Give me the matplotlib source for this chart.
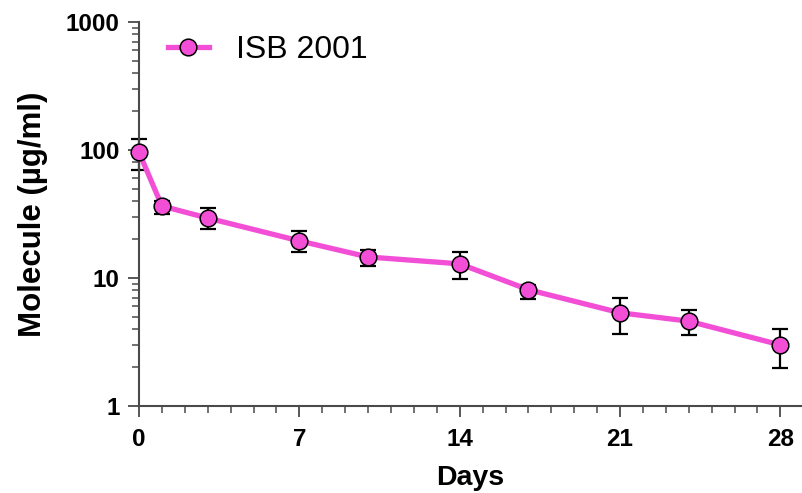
"""Molecule concentration over time, log scale."""
import matplotlib
matplotlib.use("Agg")
import matplotlib.pyplot as plt
from matplotlib.ticker import LogLocator, NullFormatter, FixedLocator, MultipleLocator

plt.rcParams['font.family'] = ['Liberation Sans', 'DejaVu Sans']

# data
days = [0, 1, 3, 7, 10, 14, 17, 21, 24, 28]
conc = [96, 36.5, 29.4, 19.5, 14.6, 12.9, 8.1, 5.35, 4.6, 3.0]
err_low = [70, 31.6, 24.1, 16.0, 12.4, 9.8, 6.8, 3.63, 3.57, 1.97]
err_high = [122, 40, 35.2, 23.3, 16.5, 15.9, 8.8, 7.0, 5.62, 4.02]
series_name = "ISB 2001"

pink = "#F24FD6"
spine_col = "#4a4a4a"

fig = plt.figure(figsize=(8.02, 4.93), dpi=100)
ax = fig.add_axes([139/802, 87/493, 662/802, 384/493])

yerr = [[c - lo for c, lo in zip(conc, err_low)],
        [hi - c for c, hi in zip(conc, err_high)]]
ax.errorbar(days, conc, yerr=yerr, fmt='none', ecolor='black',
            elinewidth=1.6, capsize=6, capthick=1.6, zorder=2, clip_on=False)
ax.plot(days, conc, '-o', color=pink, lw=3.8, markersize=12,
        markerfacecolor=pink, markeredgecolor='black', markeredgewidth=1.1,
        zorder=3, clip_on=False, label=series_name)

ax.set_yscale('log')
ax.set_ylim(1, 1000)
ax.set_xlim(0, 28.9)

ax.yaxis.set_major_locator(FixedLocator([1, 10, 100, 1000]))
ax.set_yticklabels(['1', '10', '100', '1000'])
ax.yaxis.set_minor_locator(LogLocator(base=10, subs=range(2, 10)))
ax.yaxis.set_minor_formatter(NullFormatter())
ax.xaxis.set_major_locator(FixedLocator([0, 7, 14, 21, 28]))
ax.xaxis.set_minor_locator(MultipleLocator(1))

for s in ['top', 'right']:
    ax.spines[s].set_visible(False)
for s in ['left', 'bottom']:
    ax.spines[s].set_color(spine_col)
    ax.spines[s].set_linewidth(1.5)

ax.tick_params(which='major', length=8, width=1.3, color=spine_col,
               labelsize=17.5, pad=6)
ax.tick_params(which='minor', length=5, width=1.1, color=spine_col)
ax.tick_params(axis='x', which='major', pad=8)
for lab in ax.get_xticklabels() + ax.get_yticklabels():
    lab.set_fontweight('bold')

ax.set_xlabel('Days', fontsize=20.5, fontweight='bold', labelpad=10)
ax.set_ylabel('Molecule (µg/ml)', fontsize=22.5, fontweight='bold', labelpad=13)

ax.legend(loc='upper left', bbox_to_anchor=(0.0, 1.04), frameon=False,
          fontsize=23, handlelength=1.28, handletextpad=0.85)

plt.savefig('out.png', dpi=100)
plt.close(fig)
